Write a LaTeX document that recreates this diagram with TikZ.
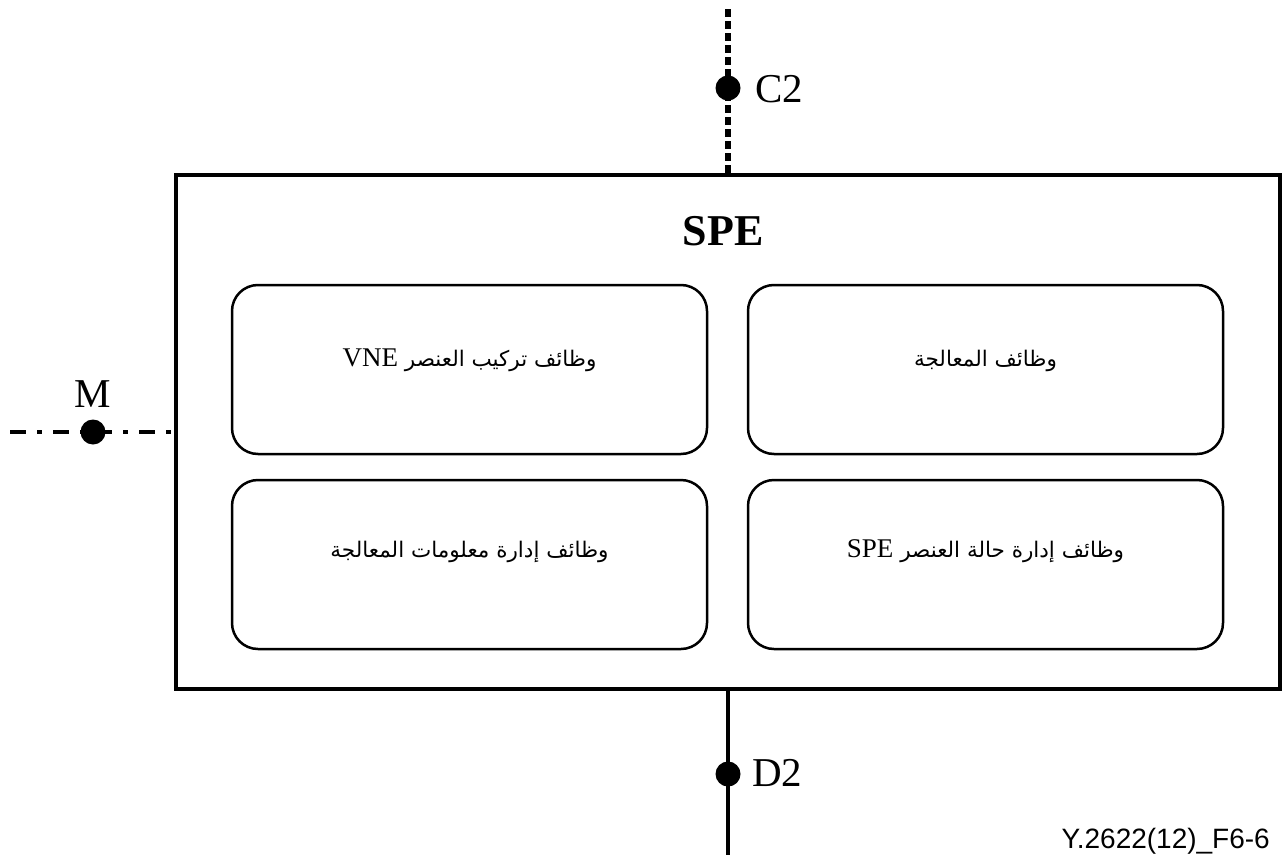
\documentclass[tikz,border=0pt]{standalone}
\usepackage{fontspec}
\setmainfont{Liberation Serif}
\newfontfamily\arabicfont[Script=Arabic]{DejaVu Sans}
\newfontfamily\labelfont{Liberation Sans}
\TeXXeTstate=1
\newcommand\latinpart[1]{\beginL{\rmfamily\fontsize{27}{30}\selectfont #1}\endL}
\begin{document}
\begin{tikzpicture}[x=1pt,y=-1pt,
  frame/.style={draw, line width=4.5pt, minimum width=1104pt, minimum height=514pt, inner sep=0pt},
  func/.style={draw, line width=2.5pt, rounded corners=26pt, minimum width=475pt, minimum height=169pt, inner sep=0pt},
  functext/.style={font=\arabicfont\fontsize{21.5}{26}\selectfont, inner sep=0pt},
  port/.style={circle, fill=black, minimum size=25pt, inner sep=0pt},
  portlabel/.style={font=\fontsize{41}{48}\selectfont, inner sep=0pt},
]
\useasboundingbox (0,0) rectangle (1282,859);

% outer SPE frame and title
\node[frame] (spe) at (728,432) {};
\node[font=\bfseries\fontsize{44}{50}\selectfont, inner sep=0pt, anchor=base] (title) at (723,245) {SPE};

% functional blocks
\node[func] (fvne)  at (469.5,369.5) {};
\node[func] (fproc) at (985.5,369.5) {};
\node[func] (finfo) at (469.5,564.5) {};
\node[func] (fstat) at (985.5,564.5) {};

\node[functext] (tvne)  at ([yshift=9pt]fvne.center)  {\beginR وظائف تركيب العنصر \latinpart{VNE}\endR};
\node[functext] (tproc) at ([yshift=9pt]fproc.center) {\beginR وظائف المعالجة\endR};
\node[functext] (tinfo) at ([yshift=13pt]finfo.center) {\beginR وظائف إدارة معلومات المعالجة\endR};
\node[functext] (tstat) at ([yshift=13pt]fstat.center) {\beginR وظائف إدارة حالة العنصر \latinpart{SPE}\endR};

% reference point C2 (dashed)
\coordinate (c2end) at (728,6);
\draw[line width=6pt, dash pattern=on 8pt off 4pt] (spe.north) -- (c2end);
\node[port] (c2) at (728,88) {};
\node[portlabel, anchor=west] (c2lbl) at (755,89) {C2};

% reference point D2 (solid)
\coordinate (d2end) at (728,855);
\draw[line width=4pt] (spe.south) -- (d2end);
\node[port] (d2) at (728,774) {};
\node[portlabel, anchor=west] (d2lbl) at (752,773) {D2};

% reference point M (dash-dot)
\coordinate (mend) at (10,432);
\draw[line width=4.5pt, dash pattern=on 16pt off 11pt on 5pt off 11pt] (mend) -- (spe.west);
\node[port] (m) at (93,432) {};
\node[portlabel, anchor=base] (mlbl) at (93,407) {M};

% figure identifier
\node[font=\labelfont\fontsize{28}{32}\selectfont, inner sep=0pt, anchor=base east] (figid) at (1270,848) {Y.2622(12)\_F6-6};
\end{tikzpicture}
\end{document}
